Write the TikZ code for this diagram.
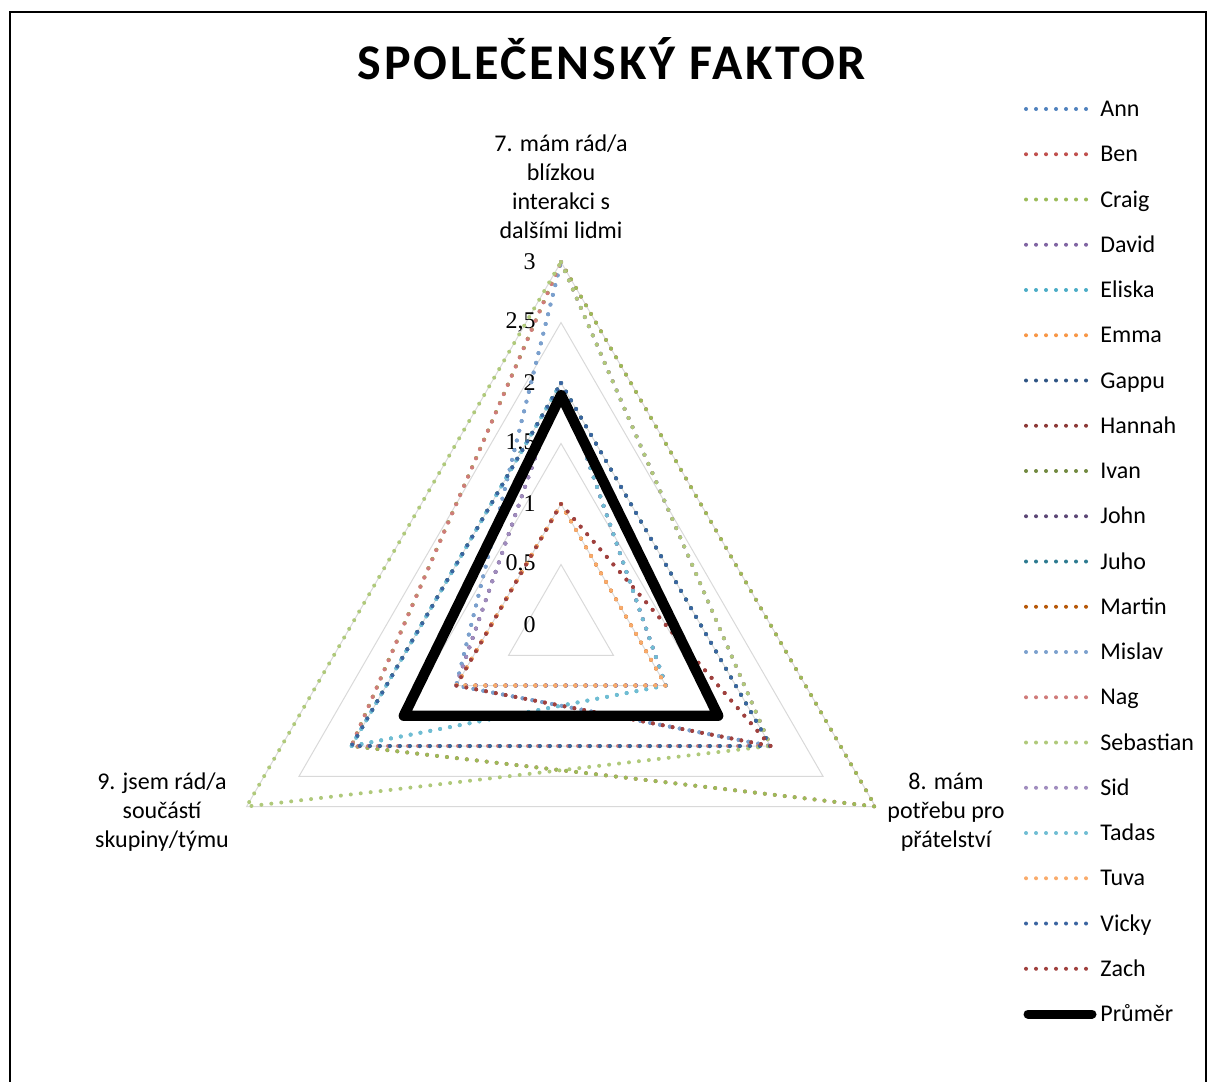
\documentclass[tikz,border=0pt]{standalone}
\usepackage{fontspec}
\setmainfont{Carlito}
\newfontfamily\tickfont{Liberation Serif}
\usepackage{tikz}
\usetikzlibrary{calc,positioning}
\definecolor{ann}{HTML}{4F81BD}
\definecolor{ben}{HTML}{C0504D}
\definecolor{craig}{HTML}{9BBB59}
\definecolor{david}{HTML}{8064A2}
\definecolor{eliska}{HTML}{4BACC6}
\definecolor{emma}{HTML}{F79646}
\definecolor{gappu}{HTML}{2F5584}
\definecolor{hannah}{HTML}{8C3836}
\definecolor{ivan}{HTML}{71893F}
\definecolor{john}{HTML}{5C4776}
\definecolor{juho}{HTML}{2C7A90}
\definecolor{martin}{HTML}{B65708}
\definecolor{mislav}{HTML}{7BA0CD}
\definecolor{nag}{HTML}{CF7B79}
\definecolor{sebastian}{HTML}{AFC97A}
\definecolor{sid}{HTML}{A08CBE}
\definecolor{tadas}{HTML}{6FBDD3}
\definecolor{tuva}{HTML}{F9AB6B}
\definecolor{vicky}{HTML}{3A64A0}
\definecolor{zach}{HTML}{A0403D}
\definecolor{gridgray}{HTML}{D9D9D9}

\begin{document}
\begin{tikzpicture}[x=0.5pt, y=-0.5pt,
  series/.style={line width=2pt, line cap=round, dash pattern=on 0pt off 5pt},
  avg/.style={line width=5.2pt, line cap=round, line join=round},
  lbl/.style={font=\fontsize{12}{14.5}\selectfont, align=center, inner sep=0pt}]
  \useasboundingbox (0,0) rectangle (1208,1081);
  \draw[line width=1pt] (10,1100) -- (10,12) -- (1206,12) -- (1206,1100);
  \node[font=\bfseries\fontsize{25}{30}\selectfont\addfontfeatures{LetterSpace=5.5}, anchor=base, inner sep=0pt] (title) at (612,80) {SPOLEČENSKÝ FAKTOR};
  % radar: one unit = 121, axes at -90 (7.), 30 (8.), 150 (9.)
  \begin{scope}[shift={(561,625)}]
    \foreach \v in {0.5,1,...,3}
      \draw[gridgray, line width=0.5pt] (-90:121*\v) -- (30:121*\v) -- (150:121*\v) -- cycle;
    \foreach \v/\t in {0/0, 0.5/{0,5}, 1/1, 1.5/{1,5}, 2/2, 2.5/{2,5}, 3/3}
      \node[font=\tickfont\fontsize{12}{14}\selectfont, anchor=east, inner sep=0pt] (tick-\v) at (-25,-121*\v) {\t};
    \foreach \col/\a/\b/\c in {ann/3/2/1, ben/3/3/2, craig/3/3/2, david/2/1/1, eliska/2/1/2, emma/1/1/1, gappu/2/2/2, hannah/1/2/1, ivan/2/2/2, john/2/1/1, juho/2/2/2, martin/1/1/1, mislav/3/2/1, nag/3/2/2, sebastian/3/2/3, sid/2/1/1, tadas/2/1/2, tuva/1/1/1, vicky/2/2/2, zach/1/2/1}
      \draw[series, \col] (-90:121*\a) -- (30:121*\b) -- (150:121*\c) -- cycle;
    \draw[avg] (-90:121*1.9) -- (30:121*1.5) -- (150:121*1.5) -- cycle;
  \end{scope}
  \node[lbl] (ax7) at (561,187) {7. mám rád/a\\blízkou\\interakci s\\dalšími lidmi};
  \node[lbl] (ax8) at (946,812) {8. mám\\potřebu pro\\přátelství};
  \node[lbl] (ax9) at (162,812) {9. jsem rád/a\\součástí\\skupiny/týmu};
  % legend
  \foreach \name/\col [count=\i from 0] in {Ann/ann, Ben/ben, Craig/craig, David/david, Eliska/eliska, Emma/emma, Gappu/gappu, Hannah/hannah, Ivan/ivan, John/john, Juho/juho, Martin/martin, Mislav/mislav, Nag/nag, Sebastian/sebastian, Sid/sid, Tadas/tadas, Tuva/tuva, Vicky/vicky, Zach/zach} {
    \draw[series, \col] (1026,109+45.25*\i) -- (1087,109+45.25*\i);
    \node[font=\fontsize{12}{14}\selectfont, anchor=base west, inner sep=0pt] (leg-\i) at (1100,116.5+45.25*\i) {\name};
  }
  \draw[avg, line width=4.5pt] (1028,1014) -- (1092,1014);
  \node[font=\fontsize{12}{14}\selectfont, anchor=base west, inner sep=0pt] (leg-avg) at (1100,1021.5) {Průměr};
\end{tikzpicture}
\end{document}
